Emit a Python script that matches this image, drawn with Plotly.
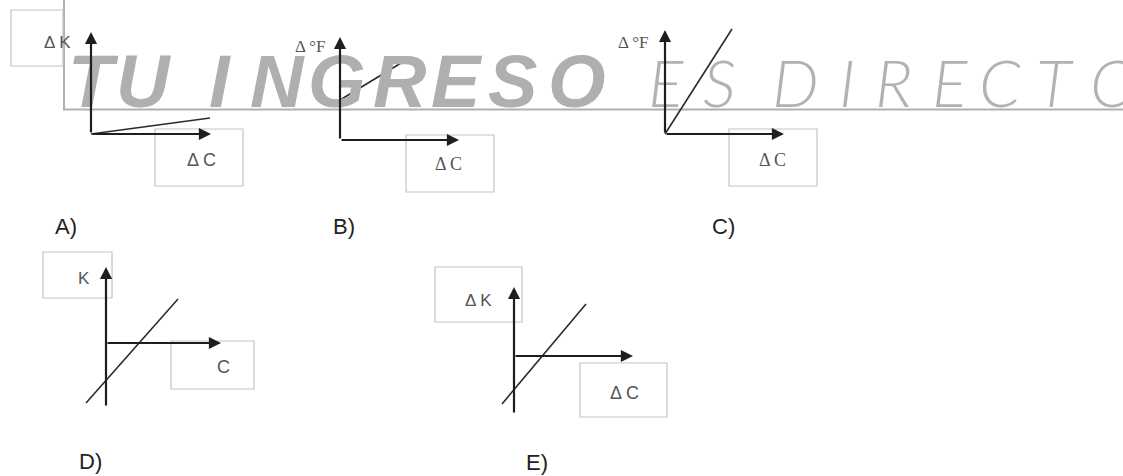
import plotly.graph_objects as go

W, H = 1123, 476

# five small graphs of a temperature change against another one
panel_names = ["A)", "B)", "C)", "D)", "E)"]
y_titles = ["Δ K", "Δ °F", "Δ °F", "K", "Δ K"]
x_titles = ["Δ C", "Δ C", "Δ C", "C", "Δ C"]
# drawn line of each graph, measured from the origin of its own axes
line_x = [[0, 119], [0, 71], [0, 67], [-20, 72], [-12, 72]]
line_y = [[0, 16], [40, 83], [0, 105], [-60, 44], [-48, 52]]
# how far the arrows of each graph reach from the origin
x_axis_end = [120, 119, 119, 115, 119]
y_axis_top = [102, 103, 104, 76, 69]
y_axis_bottom = [0, 0, 0, -64, -58]

# watermark across the top graphs
mark_bold = list("TUINGRESO")
mark_bold_x = [93, 143, 220, 277, 337, 399, 457, 512, 577]
mark_thin = list("ESDIRECTO")
mark_thin_x = [666, 719, 795, 847, 893, 950, 1000, 1055, 1114]

# page layout in pixels: origin, drawing region, label boxes, letter position
panels = [
    dict(o=(91, 134), reg=(0, 260, 0, 240), ybox=(11, 63, 10, 66), ytxt=(57, 42),
         xbox=(155, 243, 129, 186), xtxt=(201, 160), letter=(66, 226)),
    dict(o=(340, 140), reg=(260, 560, 0, 240), ybox=None, ytxt=(310, 47),
         xbox=(406, 494, 135, 192), xtxt=(448, 164), letter=(344, 226)),
    dict(o=(665, 134), reg=(560, 900, 0, 240), ybox=None, ytxt=(633, 42),
         xbox=(729, 817, 129, 186), xtxt=(772, 160), letter=(723, 226)),
    dict(o=(106, 343), reg=(0, 350, 240, 476), ybox=(43, 112, 252, 298), ytxt=(84, 278),
         xbox=(171, 254, 341, 389), xtxt=(223, 367), letter=(90, 461)),
    dict(o=(514, 356), reg=(350, 800, 240, 476), ybox=(435, 522, 267, 322), ytxt=(478, 300),
         xbox=(580, 667, 363, 417), xtxt=(624, 393), letter=(537, 462)),
]


def px(x):
    return x / W


def py(y):
    return 1 - y / H


fig = go.Figure()
layout = {}
shapes = []
annotations = []

# watermark behind everything
for ch, x in zip(mark_bold, mark_bold_x):
    annotations.append(dict(text=ch, x=px(x), y=py(81), xref="paper", yref="paper",
                            xanchor="center", yanchor="middle", showarrow=False,
                            font=dict(family="Liberation Sans", size=74, color="#afafaf",
                                      weight="bold", style="italic")))
for ch, x in zip(mark_thin, mark_thin_x):
    annotations.append(dict(text=ch, x=px(x), y=py(81), xref="paper", yref="paper",
                            xanchor="center", yanchor="middle", showarrow=False,
                            font=dict(family="Lato", size=66, color="#b2b2b2",
                                      weight=300, style="italic")))
shapes.append(dict(type="path", path=f"M {px(64)},{py(-2)} L {px(64)},{py(109.5)} L {px(1125)},{py(109.5)}",
                   xref="paper", yref="paper", line=dict(color="#b0b0b0", width=2), layer="below"))

for i, p in enumerate(panels):
    n = "" if i == 0 else str(i + 1)
    xa, ya = "x" + n, "y" + n
    ox, oy = p["o"]
    L, R, T, B = p["reg"]
    layout["xaxis" + n] = dict(domain=[px(L), px(R)], range=[L - ox, R - ox], visible=False,
                               anchor=ya, fixedrange=True)
    layout["yaxis" + n] = dict(domain=[py(B), py(T)], range=[oy - B, oy - T], visible=False,
                               anchor=xa, fixedrange=True)

    fig.add_trace(go.Scatter(x=line_x[i], y=line_y[i], mode="lines", xaxis=xa, yaxis=ya,
                             line=dict(color="#2b2b2b", width=1.6), showlegend=False,
                             hoverinfo="skip"))

    # axes as arrows
    for (x, y, ax, ay) in [(x_axis_end[i], 0, 0, 0), (0, y_axis_top[i], 0, y_axis_bottom[i])]:
        annotations.append(dict(x=x, y=y, ax=ax, ay=ay, xref=xa, yref=ya, axref=xa, ayref=ya,
                                text="", showarrow=True, arrowhead=2, arrowsize=1.1,
                                arrowwidth=2.2, arrowcolor="#1e1e1e", standoff=0))

    # label boxes
    for box in (p["ybox"], p["xbox"]):
        if box:
            x0, x1, y0, y1 = box
            shapes.append(dict(type="rect", xref="paper", yref="paper",
                               x0=px(x0), x1=px(x1), y0=py(y1), y1=py(y0),
                               line=dict(color="#c4c4c4", width=1.2), fillcolor="rgba(0,0,0,0)"))
    serif = i in (1, 2)
    fam = "Liberation Serif" if serif else "Liberation Sans"
    annotations.append(dict(text=y_titles[i], x=px(p["ytxt"][0]), y=py(p["ytxt"][1]),
                            xref="paper", yref="paper", showarrow=False,
                            xanchor="center", yanchor="middle",
                            font=dict(family=fam, size=17, color="#555555")))
    annotations.append(dict(text=x_titles[i], x=px(p["xtxt"][0]), y=py(p["xtxt"][1]),
                            xref="paper", yref="paper", showarrow=False,
                            xanchor="center", yanchor="middle",
                            font=dict(family=fam, size=18, color="#555555")))
    annotations.append(dict(text=panel_names[i], x=px(p["letter"][0]), y=py(p["letter"][1]),
                            xref="paper", yref="paper", showarrow=False,
                            xanchor="center", yanchor="middle",
                            font=dict(family="Liberation Sans", size=22, color="#222222")))

fig.update_layout(width=W, height=H, margin=dict(l=0, r=0, t=0, b=0),
                  paper_bgcolor="white", plot_bgcolor="rgba(0,0,0,0)",
                  shapes=shapes, annotations=annotations, **layout)

fig.write_html("out.html", config={"displayModeBar": False},
               post_script="document.body.style.margin='0';")
